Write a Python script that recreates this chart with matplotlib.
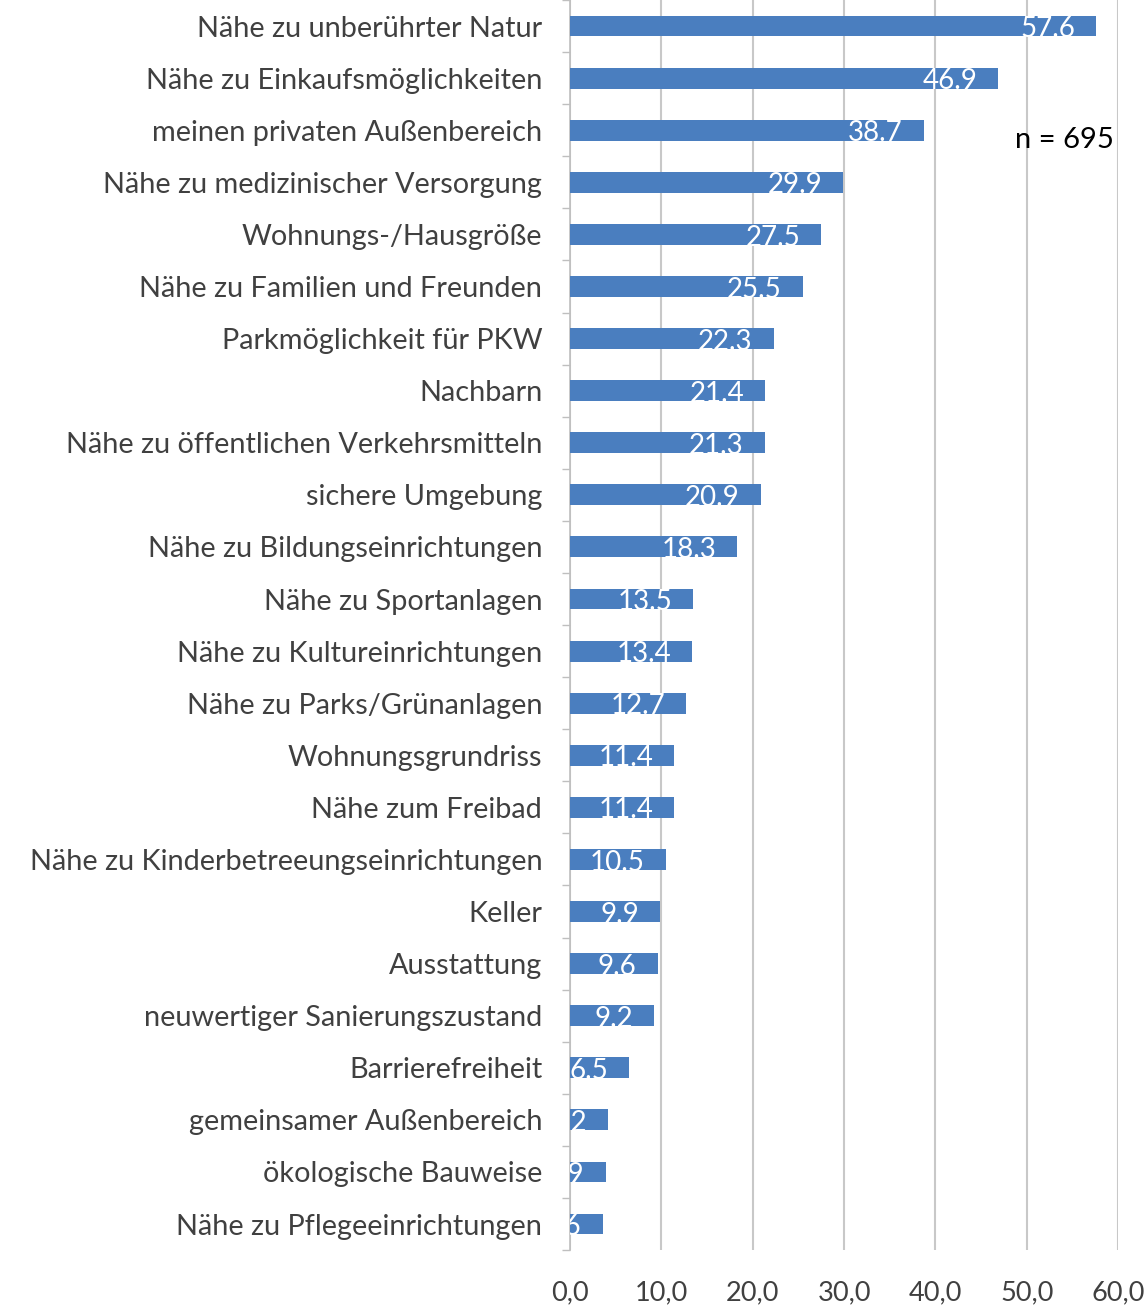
import matplotlib
matplotlib.use("Agg")
import matplotlib.pyplot as plt
import numpy as np

categories = [
    "Nähe zu unberührter Natur",
    "Nähe zu Einkaufsmöglichkeiten",
    "meinen privaten Außenbereich",
    "Nähe zu medizinischer Versorgung",
    "Wohnungs-/Hausgröße",
    "Nähe zu Familien und Freunden",
    "Parkmöglichkeit für PKW",
    "Nachbarn",
    "Nähe zu öffentlichen Verkehrsmitteln",
    "sichere Umgebung",
    "Nähe zu Bildungseinrichtungen",
    "Nähe zu Sportanlagen",
    "Nähe zu Kultureinrichtungen",
    "Nähe zu Parks/Grünanlagen",
    "Wohnungsgrundriss",
    "Nähe zum Freibad",
    "Nähe zu Kinderbetreeungseinrichtungen",
    "Keller",
    "Ausstattung",
    "neuwertiger Sanierungszustand",
    "Barrierefreiheit",
    "gemeinsamer Außenbereich",
    "ökologische Bauweise",
    "Nähe zu Pflegeeinrichtungen",
]
values = [57.6, 46.9, 38.7, 29.9, 27.5, 25.5, 22.3, 21.4, 21.3, 20.9, 18.3,
          13.5, 13.4, 12.7, 11.4, 11.4, 10.5, 9.9, 9.6, 9.2, 6.5, 4.2, 3.9, 3.6]
xticks = [0, 10, 20, 30, 40, 50, 60]
xticklabels = ["0,0", "10,0", "20,0", "30,0", "40,0", "50,0", "60,0"]
note = "n = 695"

plt.rcParams['font.family'] = ['Lato', 'DejaVu Sans']

fig = plt.figure(figsize=(11.48, 13.09), dpi=100)
ax = fig.add_axes([0.4965, 0.045, 0.4775, 0.955])

y = np.arange(len(categories))
bar_color = "#4A7EBF"
ax.barh(y, values, height=0.4, color=bar_color, zorder=3)

for yi, v in zip(y, values):
    ax.text(v - 2.3, yi + 0.06, f"{v:.1f}", ha="right", va="center", color="white",
            fontsize=20, zorder=4, clip_on=True)

ax.set_ylim(len(categories) - 0.5, -0.5)
ax.set_xlim(0, 60)
ax.set_xticks(xticks)
ax.set_xticklabels(xticklabels, fontsize=19.5, color="#404040")
ax.set_yticks(y)
ax.set_yticklabels(categories, fontsize=20.8, color="#404040")
ax.tick_params(axis="y", length=0, pad=20)
ax.tick_params(axis="x", length=0, pad=22)
ax.set_yticks(np.arange(-0.5, len(categories), 1), minor=True)
ax.tick_params(axis="y", which="minor", length=6, color="#BFBFBF", width=1)

ax.grid(axis="x", color="#C8C8C8", linewidth=1.5, zorder=0)
for s in ["top", "right", "bottom"]:
    ax.spines[s].set_visible(False)
ax.spines["left"].set_color("#BFBFBF")
ax.spines["left"].set_linewidth(1.2)

fig.text(0.970, 0.893, note, ha="right", va="center", fontsize=21, color="black")

fig.savefig("out.png", dpi=100)
